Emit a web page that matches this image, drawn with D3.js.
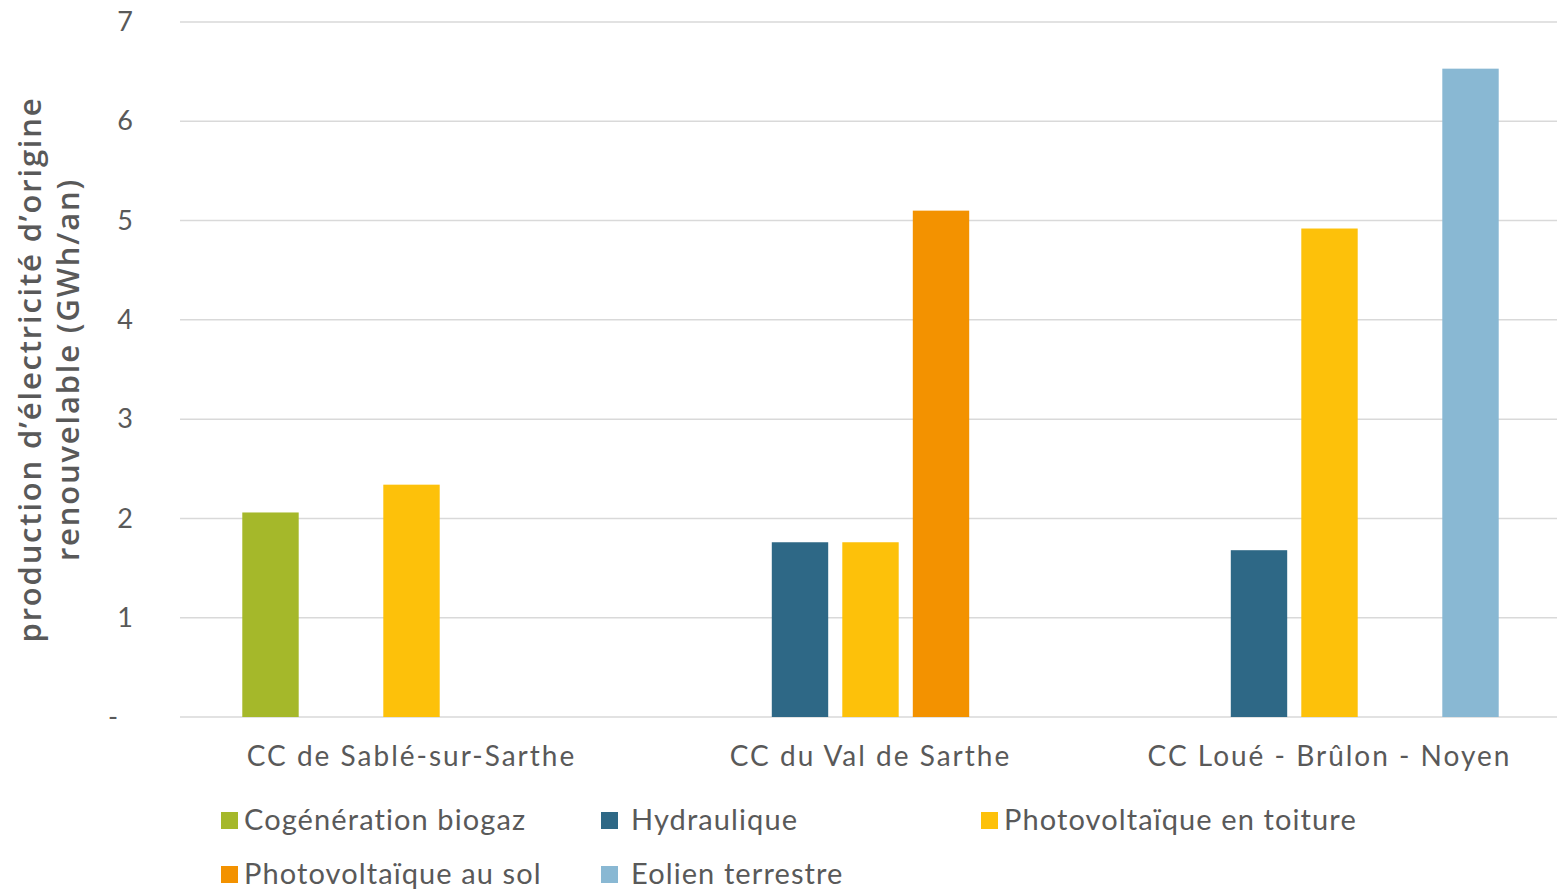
<!DOCTYPE html>
<html>
<head>
<meta charset="utf-8">
<script src="https://cdn.jsdelivr.net/npm/d3@7"></script>
<style>
  body { margin: 0; background: #fff; }
  text { font-family: Lato, "Open Sans", sans-serif; fill: #595959; }
</style>
</head>
<body>
<div id="chart"></div>
<script>
// Données (GWh/an)
const categories = ["CC de Sablé-sur-Sarthe", "CC du Val de Sarthe", "CC Loué - Brûlon - Noyen"];
const series = ["Cogénération biogaz", "Hydraulique", "Photovoltaïque en toiture", "Photovoltaïque au sol", "Eolien terrestre"];
const colors = ["#a5b82a", "#2e6886", "#fdc10a", "#f39200", "#89b8d3"];
const biogaz = [2.06, 0, 0];
const hydraulique = [0, 1.76, 1.68];
const pvToiture = [2.34, 1.76, 4.92];
const pvSol = [0, 5.10, 0];
const eolien = [0, 0, 6.53];
const yTicks = [0, 1, 2, 3, 4, 5, 6, 7];

const values = [biogaz, hydraulique, pvToiture, pvSol, eolien];

const width = 1557, height = 891;
const plot = { left: 180, right: 1557, top: 22, bottom: 717 };

const svg = d3.select("#chart").append("svg")
  .attr("width", width)
  .attr("height", height);

const y = d3.scaleLinear().domain([0, 7]).range([plot.bottom, plot.top]);

const x0 = d3.scaleBand()
  .domain(categories)
  .range([plot.left + 2, plot.right + 2])
  .paddingInner(0.232)
  .paddingOuter(0.116);

const x1 = d3.scaleBand()
  .domain(series)
  .range([0, x0.bandwidth()])
  .paddingInner(0.2)
  .paddingOuter(0.1);

// Grille horizontale
svg.append("g")
  .selectAll("line")
  .data(yTicks)
  .enter().append("line")
  .attr("x1", plot.left)
  .attr("x2", plot.right)
  .attr("y1", d => y(d))
  .attr("y2", d => y(d))
  .attr("stroke", "#d9d9d9")
  .attr("stroke-width", 1.5);

// Axe Y (libellés seulement)
const yAxis = svg.append("g")
  .attr("transform", `translate(${plot.left - 47},0)`)
  .call(d3.axisLeft(y).tickValues(yTicks).tickSize(0).tickPadding(0)
    .tickFormat(d => d === 0 ? "-" : d));
yAxis.select(".domain").remove();
yAxis.selectAll("text")
  .style("font-size", "27px")
  .attr("fill", "#595959")
  .attr("font-family", "Lato, sans-serif")
  .attr("x", d => d === 0 ? -15 : 0);

// Barres
const rows = [];
categories.forEach((c, i) => {
  series.forEach((s, j) => {
    if (values[j][i] > 0) rows.push({ cat: c, serie: s, value: values[j][i], color: colors[j] });
  });
});

svg.append("g")
  .selectAll("rect")
  .data(rows)
  .enter().append("rect")
  .attr("x", d => x0(d.cat) + x1(d.serie))
  .attr("y", d => y(d.value))
  .attr("width", x1.bandwidth())
  .attr("height", d => y(0) - y(d.value))
  .attr("fill", d => d.color);

// Axe X (catégories)
const xAxis = svg.append("g")
  .attr("transform", `translate(0,${plot.bottom})`)
  .call(d3.axisBottom(x0).tickSize(0).tickPadding(29));
xAxis.select(".domain").remove();
xAxis.selectAll("text")
  .style("font-size", "28px")
  .style("letter-spacing", "2px")
  .attr("fill", "#595959")
  .attr("font-family", "Lato, sans-serif");

// Titre de l'axe Y
const title = svg.append("text")
  .attr("transform", `translate(41,${(plot.top + plot.bottom) / 2}) rotate(-90)`)
  .attr("text-anchor", "middle")
  .style("font-family", "'Open Sans', sans-serif")
  .style("font-size", "31px")
  .style("letter-spacing", "1.8px")
  .style("font-weight", "600");
title.append("tspan").attr("x", 0).attr("y", 0).text("production d’électricité d’origine");
title.append("tspan").attr("x", 0).attr("y", 38).text("renouvelable (GWh/an)");

// Légende
const legendPos = [
  { x: 221, y: 820 }, { x: 601, y: 820 }, { x: 981, y: 820 },
  { x: 221, y: 874 }, { x: 601, y: 874 }
];
const textOffset = [23, 30, 23, 23, 30];

const legend = svg.append("g")
  .selectAll("g")
  .data(series)
  .enter().append("g")
  .attr("transform", (d, i) => `translate(${legendPos[i].x},${legendPos[i].y})`);

legend.append("rect")
  .attr("x", 0)
  .attr("y", -8)
  .attr("width", 17)
  .attr("height", 17)
  .attr("fill", (d, i) => colors[i]);

legend.append("text")
  .attr("x", (d, i) => textOffset[i])
  .attr("y", 0)
  .attr("dy", "0.35em")
  .style("font-size", "29px")
  .style("letter-spacing", "1.1px")
  .text(d => d);
</script>
</body>
</html>
